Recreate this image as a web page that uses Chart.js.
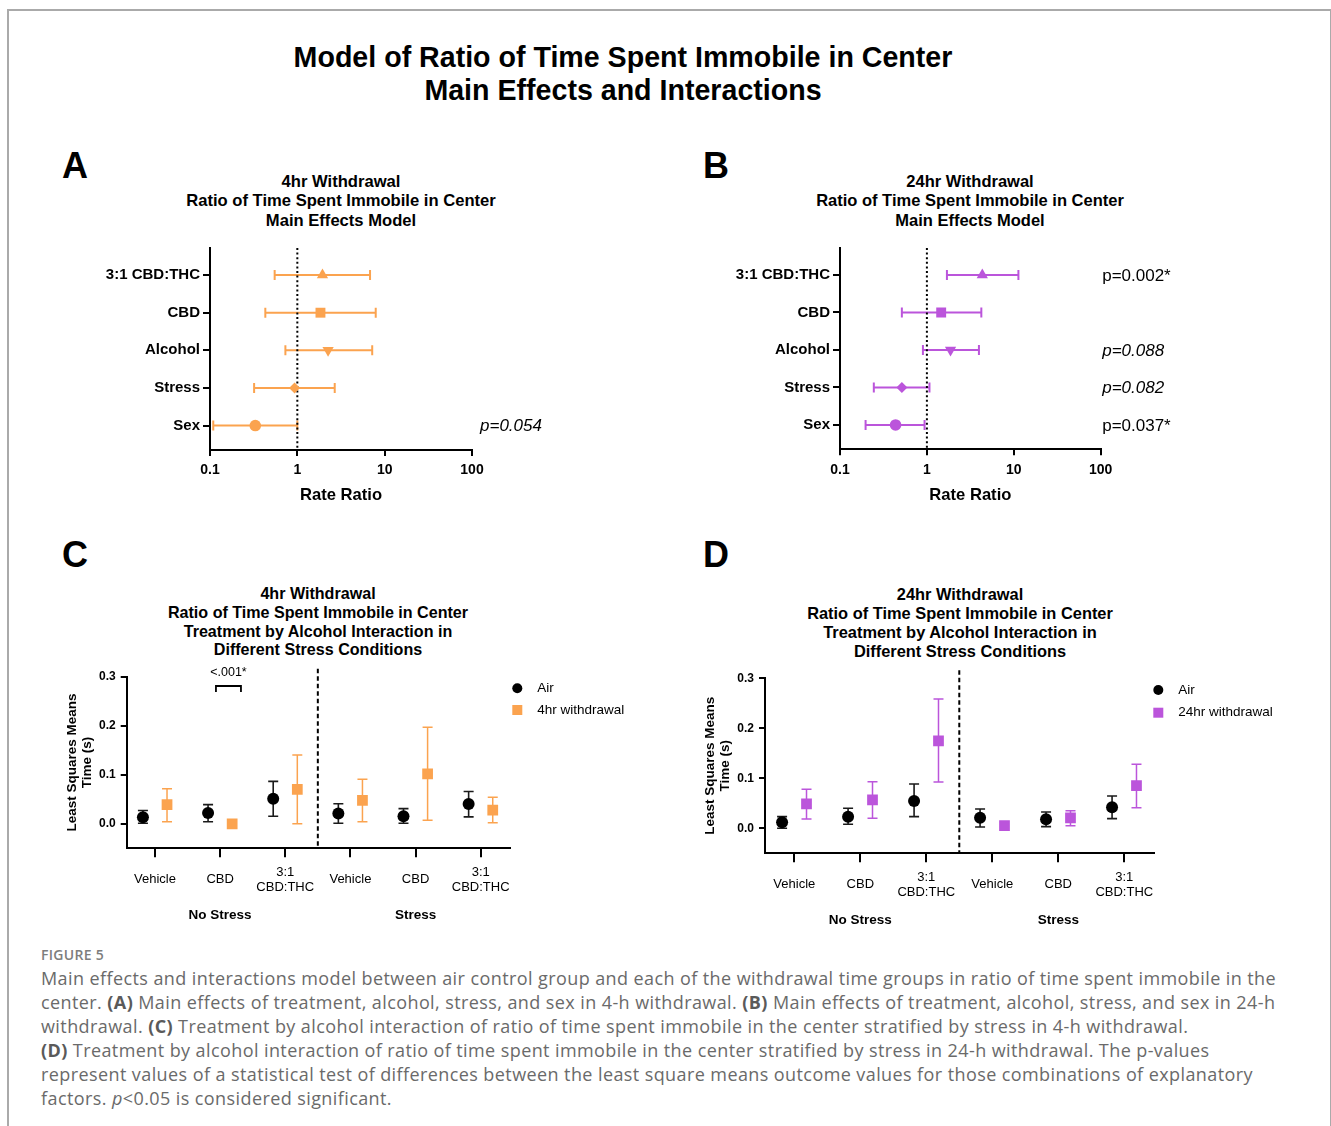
<!DOCTYPE html>
<html><head><meta charset="utf-8">
<script src="https://cdn.jsdelivr.net/npm/chart.js@4.4.1/dist/chart.umd.min.js"></script>
<style>
html,body{margin:0;padding:0;background:#fff;}
body{width:1331px;height:1126px;position:relative;overflow:hidden;font-family:"Liberation Sans",Arial,sans-serif;color:#000;}
.frame{position:absolute;left:7px;top:9px;width:1321px;height:1200px;border:2px solid #aaaaaa;border-bottom:none;}
.ct{position:absolute;transform:translateX(-50%);text-align:center;font-weight:bold;white-space:nowrap;}
.letter{position:absolute;font-size:36px;font-weight:bold;line-height:40px;}
canvas{position:absolute;}
.caph{position:absolute;left:41px;top:946px;font-family:"Open Sans",sans-serif;font-size:14px;font-weight:600;color:#7d7d7d;line-height:18px;letter-spacing:0.3px;}
.cap{position:absolute;left:41px;top:966px;font-family:"Open Sans",sans-serif;font-size:18px;color:#6a6a6a;line-height:24px;white-space:nowrap;}
.cap div{height:24px;}
.cap b{font-weight:700;color:#5a5a5a;}
</style>
</head>
<body>
<div class="frame"></div>
<div class="ct" style="left:623px;top:41px;font-size:28.6px;line-height:33px;">Model of Ratio of Time Spent Immobile in Center<br>Main Effects and Interactions</div>

<div class="letter" style="left:62px;top:146px;">A</div>
<div class="letter" style="left:703px;top:146px;">B</div>
<div class="letter" style="left:62px;top:535px;">C</div>
<div class="letter" style="left:703px;top:535px;">D</div>

<div class="ct" style="left:341px;top:171.5px;font-size:16.6px;line-height:19.5px;">4hr Withdrawal<br>Ratio of Time Spent Immobile in Center<br>Main Effects Model</div>
<div class="ct" style="left:970px;top:171.5px;font-size:16.5px;line-height:19.5px;">24hr Withdrawal<br>Ratio of Time Spent Immobile in Center<br>Main Effects Model</div>
<div class="ct" style="left:318px;top:584px;font-size:16.1px;line-height:18.8px;">4hr Withdrawal<br>Ratio of Time Spent Immobile in Center<br>Treatment by Alcohol Interaction in<br>Different Stress Conditions</div>
<div class="ct" style="left:960px;top:585px;font-size:16.4px;line-height:19px;">24hr Withdrawal<br>Ratio of Time Spent Immobile in Center<br>Treatment by Alcohol Interaction in<br>Different Stress Conditions</div>

<canvas id="cA" width="520" height="280" style="left:60px;top:240px;"></canvas>
<canvas id="cB" width="520" height="280" style="left:690px;top:240px;"></canvas>
<canvas id="cC" width="620" height="270" style="left:60px;top:660px;"></canvas>
<canvas id="cD" width="622" height="275" style="left:698px;top:660px;"></canvas>

<div class="caph">FIGURE 5</div>
<div class="cap" id="cap">
<div data-w="1235">Main effects and interactions model between air control group and each of the withdrawal time groups in ratio of time spent immobile in the</div>
<div>center. <b>(A)</b> Main effects of treatment, alcohol, stress, and sex in 4-h withdrawal. <b>(B)</b> Main effects of treatment, alcohol, stress, and sex in 24-h</div>
<div>withdrawal. <b>(C)</b> Treatment by alcohol interaction of ratio of time spent immobile in the center stratified by stress in 4-h withdrawal.</div>
<div><b>(D)</b> Treatment by alcohol interaction of ratio of time spent immobile in the center stratified by stress in 24-h withdrawal. The p-values</div>
<div>represent values of a statistical test of differences between the least square means outcome values for those combinations of explanatory</div>
<div>factors. <i>p</i>&lt;0.05 is considered significant.</div>
</div>

<script>
// ---------------- DATA ----------------
const effectLabels = ['3:1 CBD:THC', 'CBD', 'Alcohol', 'Stress', 'Sex'];
const rateTickValues = [0.1, 1, 10, 100];
const rateTickLabels = ['0.1', '1', '10', '100'];

const rr4hr     = [1.94, 1.84, 2.25, 0.93, 0.33];
const rr4hrLow  = [0.55, 0.43, 0.73, 0.32, 0.109];
const rr4hrHigh = [6.8, 7.9, 7.2, 2.68, 1.0];
const p4hr       = ['', '', '', '', 'p=0.054'];
const p4hrItalic = [false, false, false, false, true];

const rr24hr     = [4.34, 1.46, 1.87, 0.515, 0.436];
const rr24hrLow  = [1.70, 0.515, 0.90, 0.245, 0.197];
const rr24hrHigh = [11.3, 4.23, 3.97, 1.07, 0.94];
const p24hr       = ['p=0.002*', '', 'p=0.088', 'p=0.082', 'p=0.037*'];
const p24hrItalic = [false, false, true, true, false];

const treatLabels = ['Vehicle', 'CBD', ['3:1', 'CBD:THC'], 'Vehicle', 'CBD', ['3:1', 'CBD:THC']];
const stressGroups = ['No Stress', 'Stress'];
const lsTickValues = [0, 0.1, 0.2, 0.3];
const lsTickLabels = ['0.0', '0.1', '0.2', '0.3'];

const airC     = [0.0135, 0.022, 0.051, 0.021, 0.0155, 0.0405];
const airCLow  = [0.001, 0.004, 0.0155, 0.001, 0.001, 0.014];
const airCHigh = [0.027, 0.039, 0.0865, 0.041, 0.031, 0.066];
const w4C      = [0.039, 0.0, 0.070, 0.048, 0.102, 0.0277];
const w4CLow   = [0.004, null, 0.0, 0.004, 0.0074, 0.002];
const w4CHigh  = [0.0716, null, 0.1405, 0.091, 0.197, 0.054];
const sigText4hr = '<.001*';

const airD     = [0.012, 0.0233, 0.0547, 0.0213, 0.018, 0.042];
const airDLow  = [0.0, 0.008, 0.0233, 0.0027, 0.0033, 0.0193];
const airDHigh = [0.0233, 0.04, 0.0887, 0.0387, 0.0327, 0.0647];
const w24D     = [0.0487, 0.0567, 0.175, 0.0053, 0.0207, 0.0853];
const w24DLow  = [0.0187, 0.02, 0.0927, null, 0.0053, 0.0413];
const w24DHigh = [0.078, 0.0933, 0.2587, null, 0.0353, 0.128];

// ---------------- STYLE ----------------
const FONT = "'Liberation Sans', Arial, sans-serif";
const ORANGE = '#FBA34F';
const PURPLE = '#BB55DB';

// caption: fit letter spacing so the first line spans the same width as the original
(function () {
  const cap = document.getElementById('cap');
  const first = cap.querySelector('[data-w]');
  const r = document.createRange(); r.selectNodeContents(first);
  const w = r.getBoundingClientRect().width;
  const target = +first.dataset.w;
  const ls = (target - w) / first.textContent.length;
  cap.style.letterSpacing = ls.toFixed(3) + 'px';
})();

function noEdgePad(s) { s.paddingTop = 0; s.paddingBottom = 0; s.paddingLeft = 0; s.paddingRight = 0; }

const errorBarPlugin = {
  id: 'errbars',
  beforeDatasetsDraw(chart) {
    const ctx = chart.ctx, xs = chart.scales.x, ys = chart.scales.y;
    chart.data.datasets.forEach(ds => {
      if (!ds.errLow) return;
      ctx.save();
      ctx.strokeStyle = ds.errColor;
      ctx.lineWidth = ds.errWidth;
      const cap = ds.capSize;
      ds.data.forEach((pt, i) => {
        const lo = ds.errLow[i], hi = ds.errHigh[i];
        if (lo == null || hi == null) return;
        ctx.beginPath();
        if (ds.errDir === 'x') {
          const y = ys.getPixelForValue(pt.y);
          const x1 = xs.getPixelForValue(lo), x2 = xs.getPixelForValue(hi);
          ctx.moveTo(x1, y); ctx.lineTo(x2, y);
          ctx.moveTo(x1, y - cap); ctx.lineTo(x1, y + cap);
          ctx.moveTo(x2, y - cap); ctx.lineTo(x2, y + cap);
        } else {
          const x = xs.getPixelForValue(pt.x);
          const y1 = ys.getPixelForValue(lo), y2 = ys.getPixelForValue(hi);
          ctx.moveTo(x, y1); ctx.lineTo(x, y2);
          ctx.moveTo(x - cap, y1); ctx.lineTo(x + cap, y1);
          ctx.moveTo(x - cap, y2); ctx.lineTo(x + cap, y2);
        }
        ctx.stroke();
      });
      ctx.restore();
    });
  }
};

const forestPlugin = {
  id: 'forest',
  beforeDatasetsDraw(chart) {
    const {ctx, chartArea: a, scales: {x}} = chart;
    const px = x.getPixelForValue(1);
    ctx.save();
    ctx.strokeStyle = '#000'; ctx.lineWidth = 2; ctx.setLineDash([2, 2.6]);
    ctx.beginPath(); ctx.moveTo(px, a.top); ctx.lineTo(px, a.bottom); ctx.stroke();
    ctx.restore();
  },
  afterDraw(chart, args, opts) {
    const {ctx, chartArea: a, scales: {y}} = chart;
    ctx.save();
    ctx.fillStyle = '#000'; ctx.textAlign = 'left'; ctx.textBaseline = 'middle';
    opts.texts.forEach((t, i) => {
      if (!t) return;
      ctx.font = (opts.italic[i] ? 'italic ' : '') + '17px ' + FONT;
      ctx.fillText(t, a.right + opts.dx, y.getPixelForValue(i) + 1);
    });
    ctx.restore();
  }
};

function forestChart(id, vals, low, high, color, texts, italic, dx, xHeight, padRight) {
  return new Chart(document.getElementById(id), {
    type: 'scatter',
    data: {datasets: [{
      data: vals.map((v, i) => ({x: v, y: i})),
      pointStyle: ['triangle', 'rect', 'triangle', 'rectRot', 'circle'],
      rotation: [0, 0, 180, 0, 0],
      radius: [6.5, 7, 6.5, 5.5, 5.8],
      backgroundColor: color, borderColor: color, borderWidth: 0,
      errLow: low, errHigh: high, errDir: 'x', errColor: color, errWidth: 2, capSize: 5
    }]},
    options: {
      responsive: false, animation: false, devicePixelRatio: 1,
      layout: {autoPadding: false, padding: {top: 8, right: padRight, left: 0, bottom: 0}},
      plugins: {legend: {display: false}, tooltip: {enabled: false}, forest: {texts, italic, dx}},
      scales: {
        x: {
          type: 'logarithmic', min: 0.1, max: 100,
          afterBuildTicks: s => { s.ticks = rateTickValues.map(v => ({value: v})); },
          ticks: {callback: (v, i) => rateTickLabels[i], font: {family: FONT, size: 14, weight: 'bold'}, color: '#000', padding: 6, maxRotation: 0, autoSkip: false},
          grid: {drawOnChartArea: false, drawTicks: true, tickLength: 6, color: '#000', lineWidth: 2, tickWidth: 2},
          border: {display: true, color: '#000', width: 2},
          title: {display: true, text: 'Rate Ratio', color: '#000', font: {family: FONT, size: 16.6, weight: 'bold'}, padding: {top: 0, bottom: 15}},
          afterFit: s => { s.height = xHeight; noEdgePad(s); }
        },
        y: {
          type: 'linear', reverse: true, min: -0.72, max: 4.65,
          afterBuildTicks: s => { s.ticks = effectLabels.map((l, i) => ({value: i})); },
          ticks: {callback: v => effectLabels[v], font: {family: FONT, size: 15, weight: 'bold'}, color: '#000', padding: 3, autoSkip: false},
          grid: {drawOnChartArea: false, drawTicks: true, tickLength: 7, color: '#000', lineWidth: 2, tickWidth: 2},
          border: {display: true, color: '#000', width: 2},
          afterFit: s => { s.width = 150; noEdgePad(s); }
        }
      }
    },
    plugins: [errorBarPlugin, forestPlugin]
  });
}

const interactionPlugin = {
  id: 'interact',
  beforeDatasetsDraw(chart, args, opts) {
    const {ctx, chartArea: a, scales: {x}} = chart;
    const sx = x.getPixelForValue(2.5);
    ctx.save();
    ctx.strokeStyle = '#000'; ctx.lineWidth = 2; ctx.setLineDash([4.5, 3]);
    ctx.beginPath(); ctx.moveTo(sx, a.top - 8); ctx.lineTo(sx, a.bottom); ctx.stroke();
    ctx.restore();
  },
  afterDraw(chart, args, opts) {
    const {ctx, chartArea: a, scales: {x, y}} = chart;
    ctx.save();
    ctx.fillStyle = '#000';
    ctx.textAlign = 'center'; ctx.textBaseline = 'middle';
    ctx.font = 'bold 13.5px ' + FONT;
    stressGroups.forEach((g, i) => ctx.fillText(g, x.getPixelForValue(1 + 3 * i), a.bottom + 67));
    // legend
    const ds = chart.data.datasets;
    const lx = a.right + opts.legendDx;
    ctx.textAlign = 'left';
    ctx.font = '13.5px ' + FONT;
    ds.forEach((d, i) => {
      const ly = a.top + opts.legendRows[i];
      ctx.fillStyle = d.backgroundColor;
      ctx.beginPath();
      if (d.pointStyle === 'circle') { ctx.arc(lx, ly, 5, 0, Math.PI * 2); }
      else { ctx.rect(lx - 5, ly - 5, 10, 10); }
      ctx.fill();
      ctx.fillStyle = '#000';
      ctx.fillText(d.label, lx + 20, ly);
    });
    // significance bracket
    if (opts.sig) {
      const x1 = x.getPixelForValue(opts.sig.x1), x2 = x.getPixelForValue(opts.sig.x2);
      const yt = y.getPixelForValue(opts.sig.yTop), yb = y.getPixelForValue(opts.sig.yLeg);
      ctx.strokeStyle = '#000'; ctx.lineWidth = 1.8;
      ctx.beginPath();
      ctx.moveTo(x1, yb); ctx.lineTo(x1, yt); ctx.lineTo(x2, yt); ctx.lineTo(x2, yb);
      ctx.stroke();
      ctx.textAlign = 'center';
      ctx.font = '12.5px ' + FONT;
      ctx.fillText(opts.sig.text, (x1 + x2) / 2, y.getPixelForValue(opts.sig.yText));
    }
    ctx.restore();
  }
};

function interactionChart(id, air, airLo, airHi, w, wLo, wHi, color, wLabel, cfg) {
  const off = 0.185;
  return new Chart(document.getElementById(id), {
    type: 'scatter',
    data: {datasets: [
      {label: 'Air', data: air.map((v, i) => ({x: i - off, y: v})), pointStyle: 'circle', radius: 6,
       backgroundColor: '#000', borderColor: '#000', borderWidth: 0,
       errLow: airLo, errHigh: airHi, errDir: 'y', errColor: '#1a1a1a', errWidth: 1.6, capSize: 5},
      {label: wLabel, data: w.map((v, i) => ({x: i + off, y: v})), pointStyle: 'rect', radius: 7.6,
       backgroundColor: color, borderColor: color, borderWidth: 0,
       errLow: wLo, errHigh: wHi, errDir: 'y', errColor: color, errWidth: 1.5, capSize: 5}
    ]},
    options: {
      responsive: false, animation: false, devicePixelRatio: 1,
      layout: {autoPadding: false, padding: {top: cfg.padTop, right: cfg.padRight, left: 0, bottom: 0}},
      plugins: {legend: {display: false}, tooltip: {enabled: false},
        interact: {legendDx: cfg.legendDx, legendRows: cfg.legendRows, sig: cfg.sig}},
      scales: {
        x: {
          type: 'linear', min: cfg.xMin, max: cfg.xMax,
          afterBuildTicks: s => { s.ticks = treatLabels.map((l, i) => ({value: i})); },
          ticks: {callback: v => treatLabels[Math.round(v)], font: {family: FONT, size: 13, lineHeight: 1.15}, color: '#000',
                  padding: 15, maxRotation: 0, autoSkip: false, crossAlign: 'center'},
          grid: {drawOnChartArea: false, drawTicks: true, tickLength: 9, color: '#000', lineWidth: 2, tickWidth: 2},
          border: {display: true, color: '#000', width: 2},
          afterFit: s => { s.height = cfg.xHeight; noEdgePad(s); }
        },
        y: {
          type: 'linear', min: -0.05, max: 0.3,
          afterBuildTicks: s => { s.ticks = lsTickValues.map(v => ({value: v})); },
          ticks: {callback: (v, i) => lsTickLabels[i], font: {family: FONT, size: 12, weight: 'bold'}, color: '#000', padding: 5, autoSkip: false},
          grid: {drawOnChartArea: false, drawTicks: true, tickLength: 6, color: '#000', lineWidth: 2, tickWidth: 2},
          border: {display: true, color: '#000', width: 2},
          title: {display: true, text: ['Least Squares Means', 'Time (s)'], color: '#000',
                  font: {family: FONT, size: 13.5, weight: 'bold', lineHeight: 1.1}, padding: {top: 4.6, bottom: 0}},
          afterFit: s => { s.width = cfg.yWidth; noEdgePad(s); }
        }
      }
    },
    plugins: [errorBarPlugin, interactionPlugin]
  });
}

forestChart('cA', rr4hr, rr4hrLow, rr4hrHigh, ORANGE, p4hr, p4hrItalic, 8, 70, 108);
forestChart('cB', rr24hr, rr24hrLow, rr24hrHigh, PURPLE, p24hr, p24hrItalic, 1.5, 70.7, 109.3);

interactionChart('cC', airC, airCLow, airCHigh, w4C, w4CLow, w4CHigh, ORANGE, '4hr withdrawal', {
  padTop: 16.7, padRight: 170, xHeight: 81.7, yWidth: 66.7, xMin: -0.434, xMax: 5.45,
  legendDx: 7.3, legendRows: [11.6, 33.3],
  sig: {text: sigText4hr, x1: 0.936, x2: 1.32, yTop: 0.281, yLeg: 0.269, yText: 0.3075}
});
interactionChart('cD', airD, airDLow, airDHigh, w24D, w24DLow, w24DHigh, PURPLE, '24hr withdrawal', {
  padTop: 18.3, padRight: 165.7, xHeight: 81.7, yWidth: 67, xMin: -0.444, xMax: 5.455,
  legendDx: 4, legendRows: [11.7, 34.4], sig: null
});
</script>
</body></html>
